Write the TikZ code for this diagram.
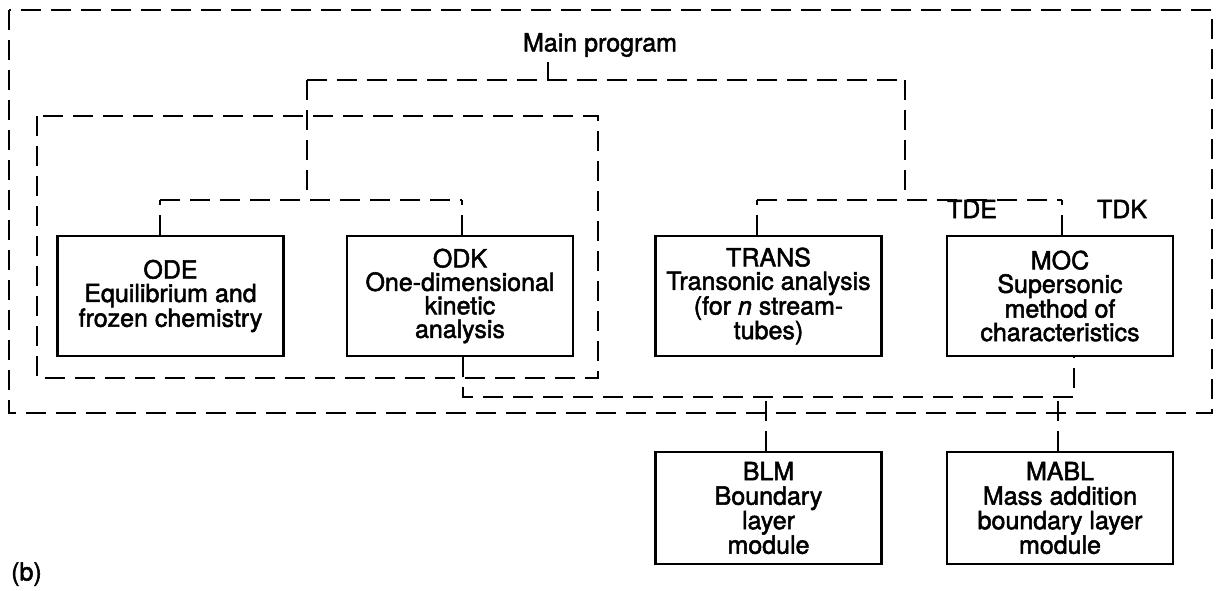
\documentclass[tikz,border=0pt]{standalone}
\usepackage{fontspec}
\setmainfont{TeX Gyre Heros}[FakeBold=2]
\newcommand\bxfont{\fontsize{25}{23.5}\selectfont}
\begin{document}
\begin{tikzpicture}[x=1pt,y=-1pt,
  dl/.style={line width=1.3pt, dash pattern=on 20pt off 10pt},
  box/.style={draw, line width=2.3pt, align=center, minimum width=226pt, minimum height=120pt, inner sep=0pt, font=\bxfont},
  lbl/.style={font=\bxfont, inner sep=0pt}]
\useasboundingbox (0,0) rectangle (1217,590);
% frames
\draw[dl] (9,10) rectangle (1212,413);
\draw[dl] (37,116) rectangle (598,378);
% nodes
\node[lbl] (main) at (600,45) {Main program};
\node[box] (ode) at (170.5,296) {ODE\\Equilibrium and\\frozen chemistry};
\node[box] (odk) at (460,296) {ODK\\One-dimensional\\kinetic\\analysis};
\node[box] (trans) at (768.5,296) {TRANS\\Transonic analysis\\(for \textit{n} stream-\\tubes)};
\node[box] (moc) at (1060,296) {MOC\\Supersonic\\method of\\characteristics};
\node[box, minimum height=112pt, font=\fontsize{25}{24.5}\selectfont] (blm) at (768.5,508) {BLM\\Boundary\\layer\\module};
\node[box, minimum height=112pt, font=\fontsize{25}{24.5}\selectfont] (mabl) at (1060,508) {MABL\\Mass addition\\boundary layer\\module};
\node[lbl] (tde) at (972,209) {TDE};
\node[lbl] (tdk) at (1122,209) {TDK};
\node[lbl, anchor=west] (b) at (11,574) {(b)};
% connectors
\coordinate (mtop) at (548,62);
\coordinate (m0) at (548,80);
\coordinate (a) at (307,80);
\coordinate (bb) at (905,80);
\draw[dl] (mtop) -- (m0);
\draw[dl] (a) -- (bb);
\coordinate (a2) at (307,200);
\draw[dl] (a) -- (a2);
\coordinate (c1) at (160,200);
\coordinate (c2) at (462,200);
\draw[dl] (c1) -- (c2);
\draw[dl] (ode.north -| c1) -- (c1);
\draw[dl] (odk.north -| c2) -- (c2);
\coordinate (b2) at (905,200);
\draw[dl] (bb) -- (b2);
\coordinate (d1) at (757,200);
\coordinate (d2) at (1062,200);
\draw[dl] (d1) -- (d2);
\draw[dl] (trans.north -| d1) -- (d1);
\draw[dl] (moc.north -| d2) -- (d2);
\coordinate (e1) at (463,397);
\coordinate (e2) at (1074,397);
\draw[dl] (odk.south -| e1) -- (e1) -- (e2) -- (moc.south -| e2);
\coordinate (f1) at (766,397);
\coordinate (f2) at (1058,397);
\draw[dl] (blm.north -| f1) -- (f1);
\draw[dl] (mabl.north -| f2) -- (f2);
\end{tikzpicture}
\end{document}
